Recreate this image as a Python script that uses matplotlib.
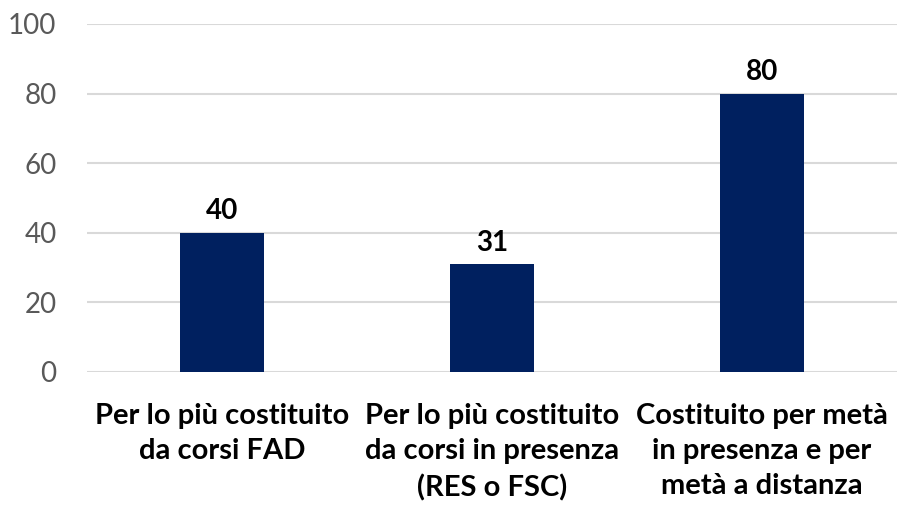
import matplotlib
matplotlib.use("Agg")
import matplotlib.pyplot as plt

categories = ["Per lo più costituito\nda corsi FAD",
              "Per lo più costituito\nda corsi in presenza\n(RES o FSC)",
              "Costituito per metà\nin presenza e per\nmetà a distanza"]
values = [40, 31, 80]
yticks = [0, 20, 40, 60, 80, 100]

plt.rcParams["font.family"] = ["Lato", "DejaVu Sans"]

fig = plt.figure(figsize=(8.97, 5.05), dpi=100)
ax = fig.add_axes([87 / 897, 1 - 372 / 505, 810 / 897, 348 / 505])

x = range(len(categories))
bars = ax.bar(x, values, width=0.31, color="#00205F", zorder=3)
for b, v in zip(bars, values):
    ax.text(b.get_x() + b.get_width() / 2, v + 2.4, str(v), ha="center", va="bottom",
            fontsize=20, fontweight="bold", color="black")

ax.set_xlim(-0.5, 2.5)
ax.set_ylim(0, 100)
ax.set_yticks(yticks)
ax.set_xticks(list(x))
ax.set_xticklabels(categories, fontsize=21, fontweight="bold", linespacing=1.45)
ax.tick_params(axis="x", length=0, pad=22)
ax.tick_params(axis="y", length=0, pad=22, labelsize=20, labelcolor="#595959")
ax.grid(axis="y", color="#D9D9D9", linewidth=1.5, zorder=0)
for s in ax.spines.values():
    s.set_visible(False)

fig.savefig("out.png", dpi=100)
